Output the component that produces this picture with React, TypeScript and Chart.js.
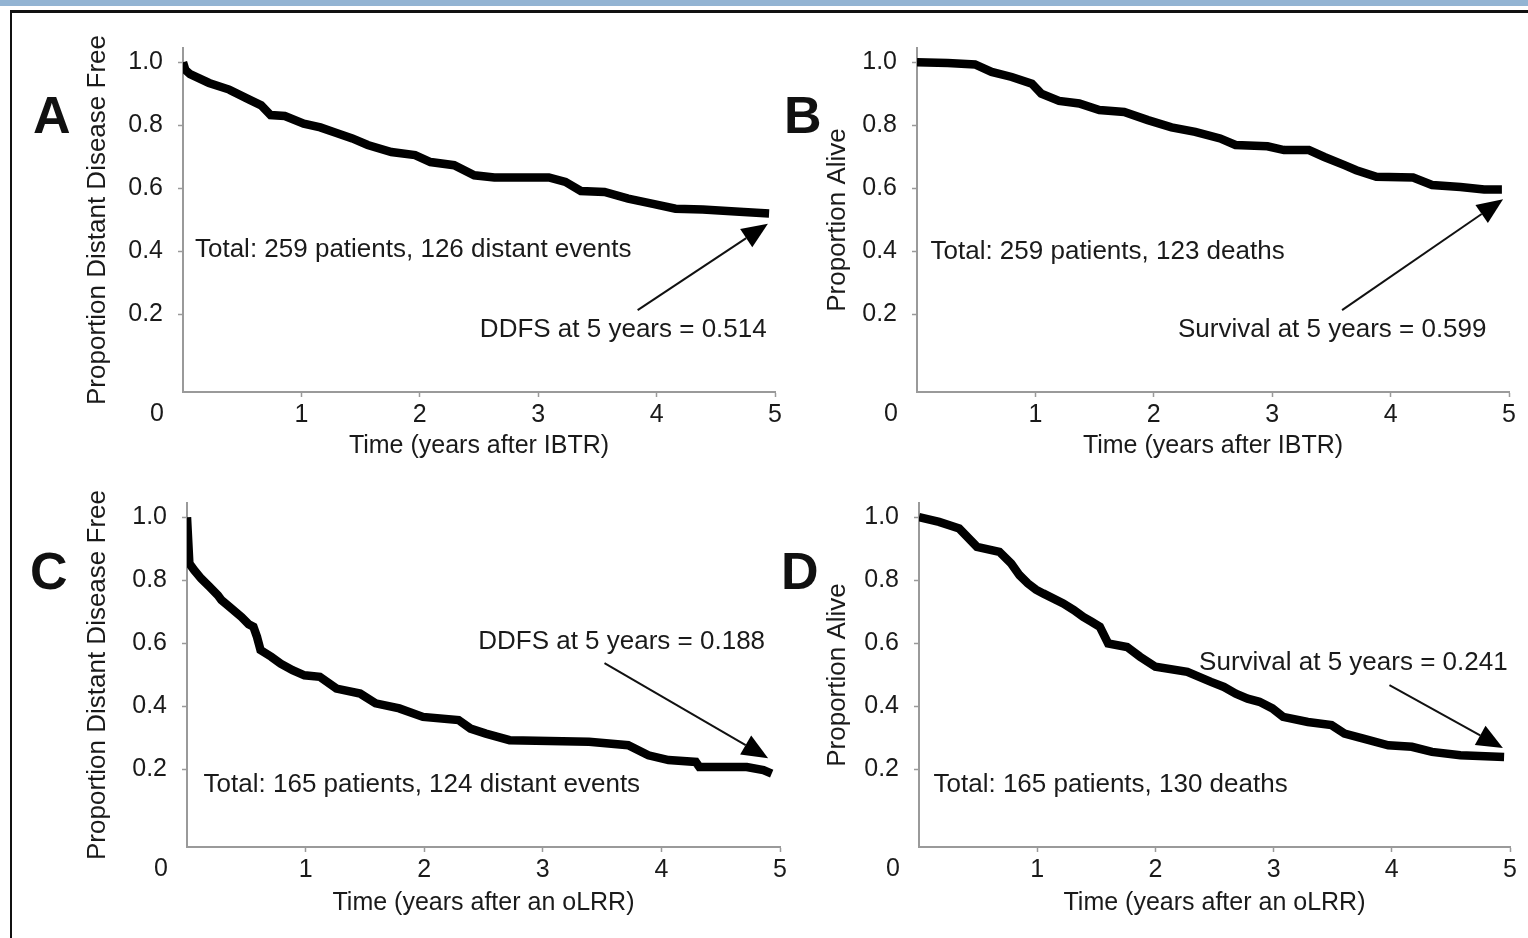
import React, { useEffect, useRef } from 'react';
import { Chart, registerables } from 'chart.js';

Chart.register(...registerables);

const FONT = '"Liberation Sans", Arial, Helvetica, sans-serif';
Chart.defaults.font.family = FONT;

// ---------- data ----------
const xTickValues = [1, 2, 3, 4, 5];
const yTickValues = [0.2, 0.4, 0.6, 0.8, 1.0];

// A: distant disease free after IBTR
const timeA = [0, 0.02, 0.06, 0.22, 0.39, 0.56, 0.66, 0.74, 0.86, 1.02, 1.16, 1.29, 1.43, 1.56, 1.76, 1.96, 2.09, 2.29, 2.46, 2.63, 3.09, 3.23, 3.36, 3.56, 3.76, 3.96, 4.16, 4.39, 4.70, 4.95];
const survA = [1.0, 0.975, 0.962, 0.934, 0.913, 0.881, 0.863, 0.832, 0.829, 0.805, 0.793, 0.776, 0.758, 0.737, 0.715, 0.705, 0.683, 0.673, 0.641, 0.634, 0.634, 0.620, 0.591, 0.588, 0.567, 0.551, 0.535, 0.532, 0.525, 0.520];

// B: alive after IBTR
const timeB = [0, 0.26, 0.49, 0.63, 0.80, 0.97, 1.05, 1.20, 1.37, 1.54, 1.75, 1.95, 2.15, 2.35, 2.56, 2.69, 2.96, 3.10, 3.31, 3.44, 3.61, 3.71, 3.88, 4.19, 4.35, 4.59, 4.79, 4.94];
const survB = [1.0, 0.997, 0.993, 0.969, 0.953, 0.932, 0.900, 0.877, 0.869, 0.848, 0.842, 0.816, 0.793, 0.779, 0.758, 0.737, 0.733, 0.721, 0.721, 0.699, 0.673, 0.657, 0.636, 0.634, 0.610, 0.604, 0.596, 0.596];

// C: distant disease free after an oLRR
const timeC = [0, 0.02, 0.06, 0.12, 0.19, 0.26, 0.29, 0.36, 0.46, 0.52, 0.56, 0.59, 0.62, 0.71, 0.79, 0.89, 0.99, 1.12, 1.26, 1.46, 1.59, 1.79, 1.99, 2.29, 2.39, 2.52, 2.72, 3.39, 3.72, 3.89, 4.06, 4.29, 4.32, 4.72, 4.86, 4.93];
const survC = [1.0, 0.853, 0.832, 0.805, 0.779, 0.752, 0.737, 0.715, 0.683, 0.660, 0.652, 0.620, 0.578, 0.557, 0.535, 0.514, 0.498, 0.493, 0.456, 0.440, 0.409, 0.393, 0.366, 0.356, 0.329, 0.313, 0.292, 0.287, 0.276, 0.244, 0.229, 0.223, 0.207, 0.207, 0.197, 0.186];

// D: alive after an oLRR
const timeD = [0, 0.17, 0.34, 0.49, 0.68, 0.78, 0.85, 0.92, 0.99, 1.05, 1.22, 1.31, 1.39, 1.46, 1.53, 1.60, 1.76, 1.87, 2.00, 2.27, 2.47, 2.58, 2.68, 2.78, 2.88, 2.99, 3.08, 3.29, 3.49, 3.60, 3.76, 3.97, 4.17, 4.34, 4.58, 4.95];
const survD = [1.0, 0.985, 0.964, 0.906, 0.890, 0.853, 0.816, 0.790, 0.770, 0.758, 0.726, 0.705, 0.683, 0.668, 0.652, 0.599, 0.588, 0.557, 0.525, 0.509, 0.477, 0.461, 0.440, 0.424, 0.414, 0.393, 0.366, 0.350, 0.340, 0.313, 0.297, 0.276, 0.271, 0.255, 0.244, 0.239];

const yTitleDDFS = 'Proportion Distant Disease Free';
const yTitleAlive = 'Proportion Alive';
const xTitleIBTR = 'Time (years after IBTR)';
const xTitleOLRR = 'Time (years after an oLRR)';

// ---------- annotations (data coordinates) ----------
const notesA = {
  texts: [
    { text: 'Total: 259 patients, 126 distant events', at: [0.101, 0.403], align: 'left' },
    { text: 'DDFS at 5 years = 0.514', at: [4.93, 0.149], align: 'right' },
  ],
  arrow: { from: [3.84, 0.213], to: [4.94, 0.487] },
};
const notesB = {
  texts: [
    { text: 'Total: 259 patients, 123 deaths', at: [0.114, 0.397], align: 'left' },
    { text: 'Survival at 5 years = 0.599', at: [4.81, 0.149], align: 'right' },
  ],
  arrow: { from: [3.59, 0.213], to: [4.95, 0.565] },
};
const notesC = {
  texts: [
    { text: 'Total: 165 patients, 124 distant events', at: [0.14, 0.149], align: 'left' },
    { text: 'DDFS at 5 years = 0.188', at: [4.874, 0.603], align: 'right' },
  ],
  arrow: { from: [3.52, 0.537], to: [4.90, 0.235] },
};
const notesD = {
  texts: [
    { text: 'Total: 165 patients, 130 deaths', at: [0.123, 0.149], align: 'left' },
    { text: 'Survival at 5 years = 0.241', at: [4.98, 0.537], align: 'right' },
  ],
  arrow: { from: [3.98, 0.467], to: [4.94, 0.267] },
};

const TEXT = '#1a1a1a';
const AXIS = '#9a9a9a';

const kmAnnotations = {
  id: 'kmAnnotations',
  afterDatasetsDraw(chart: any, _args: any, opts: any) {
    const { ctx, chartArea } = chart;
    const xs = chart.scales.x;
    const ys = chart.scales.y;
    ctx.save();
    ctx.fillStyle = TEXT;
    ctx.strokeStyle = '#111';
    ctx.font = `26px ${FONT}`;
    ctx.textBaseline = 'middle';
    for (const t of opts.texts || []) {
      ctx.textAlign = t.align;
      ctx.fillText(t.text, xs.getPixelForValue(t.at[0]), ys.getPixelForValue(t.at[1]));
    }
    const a = opts.arrow;
    if (a) {
      const x0 = xs.getPixelForValue(a.from[0]);
      const y0 = ys.getPixelForValue(a.from[1]);
      const x1 = xs.getPixelForValue(a.to[0]);
      const y1 = ys.getPixelForValue(a.to[1]);
      const ang = Math.atan2(y1 - y0, x1 - x0);
      const L = 26;
      const W = 11;
      const c = Math.cos(ang);
      const s = Math.sin(ang);
      const bx = x1 - L * c;
      const by = y1 - L * s;
      ctx.lineWidth = 2;
      ctx.beginPath();
      ctx.moveTo(x0, y0);
      ctx.lineTo(bx, by);
      ctx.stroke();
      ctx.fillStyle = '#000';
      ctx.beginPath();
      ctx.moveTo(x1, y1);
      ctx.lineTo(bx - W * s, by + W * c);
      ctx.lineTo(bx + W * s, by - W * c);
      ctx.closePath();
      ctx.fill();
    }
    // shared origin label
    ctx.fillStyle = TEXT;
    ctx.font = `25px ${FONT}`;
    ctx.textAlign = 'center';
    ctx.fillText('0', chartArea.left - 26, chartArea.bottom + 22);
    ctx.restore();
  },
};

type PanelProps = {
  times: number[];
  surv: number[];
  yTitle: string;
  xTitle: string;
  notes: any;
  left: number;
  top: number;
  width: number;
  height: number;
  yAxisWidth: number;
  xAxisHeight: number;
};

function zeroPadding(s: any) {
  s.paddingLeft = 0;
  s.paddingRight = 0;
  s.paddingTop = 0;
  s.paddingBottom = 0;
}

function KMPanel(p: PanelProps) {
  const ref = useRef<HTMLCanvasElement>(null);
  useEffect(() => {
    const chart = new Chart(ref.current as HTMLCanvasElement, {
      type: 'line',
      data: {
        datasets: [
          {
            data: p.times.map((t, i) => ({ x: t, y: p.surv[i] })),
            borderColor: '#000',
            borderWidth: 8.5,
            tension: 0,
            pointRadius: 0,
            fill: false,
            borderJoinStyle: 'miter',
            borderCapStyle: 'butt',
          } as any,
        ],
      },
      options: {
        animation: false,
        responsive: false,
        layout: { padding: { top: 28, right: 15, left: 0, bottom: 0 } },
        plugins: {
          legend: { display: false },
          tooltip: { enabled: false },
          kmAnnotations: p.notes,
        } as any,
        scales: {
          x: {
            type: 'linear',
            min: 0,
            max: 5,
            afterBuildTicks: (s: any) => {
              s.ticks = xTickValues.map((v) => ({ value: v }));
            },
            afterFit: (s: any) => {
              s.height = p.xAxisHeight;
              zeroPadding(s);
            },
            ticks: {
              color: TEXT,
              font: { size: 25, family: FONT },
              padding: 3,
              maxRotation: 0,
              autoSkip: false,
              callback: (v: any) => String(v),
            },
            grid: { drawOnChartArea: false, tickLength: 5, color: AXIS, tickWidth: 1.5 },
            border: { color: AXIS, width: 2 },
            title: {
              display: true,
              text: p.xTitle,
              color: TEXT,
              font: { size: 25, family: FONT },
              padding: { top: 0, bottom: 6 },
            },
          },
          y: {
            type: 'linear',
            min: -0.047,
            max: 1.045,
            afterBuildTicks: (s: any) => {
              s.ticks = yTickValues.map((v) => ({ value: v }));
            },
            afterFit: (s: any) => {
              s.width = p.yAxisWidth;
              zeroPadding(s);
            },
            ticks: {
              color: TEXT,
              font: { size: 25, family: FONT },
              padding: 15,
              callback: (v: any) => Number(v).toFixed(1),
            },
            grid: { drawOnChartArea: false, tickLength: 5, color: AXIS, tickWidth: 1.5 },
            border: { color: AXIS, width: 2 },
            title: {
              display: true,
              text: p.yTitle,
              color: TEXT,
              font: { size: 26, family: FONT },
              padding: { top: 22, bottom: 0 },
            },
          },
        },
      } as any,
      plugins: [kmAnnotations],
    });
    return () => chart.destroy();
  }, []);
  return (
    <canvas
      ref={ref}
      width={p.width}
      height={p.height}
      style={{ position: 'absolute', left: p.left, top: p.top, width: p.width, height: p.height }}
    />
  );
}

const letterStyle = (left: number, top: number): React.CSSProperties => ({
  position: 'absolute',
  left,
  top,
  font: `bold 52px ${FONT}`,
  lineHeight: '52px',
  color: '#111',
});

export default function App() {
  return (
    <div
      style={{
        position: 'absolute',
        left: 0,
        top: 0,
        width: 1528,
        height: 938,
        background: '#fff',
        overflow: 'hidden',
      }}
    >
      <div style={{ position: 'absolute', left: 0, top: 0, width: 1528, height: 6, background: '#93b4d3' }} />
      <div
        style={{
          position: 'absolute',
          left: 10,
          top: 10,
          width: 1600,
          height: 1000,
          borderTop: '3px solid #111',
          borderLeft: '2px solid #111',
        }}
      />
      <KMPanel times={timeA} surv={survA} yTitle={yTitleDDFS} xTitle={xTitleIBTR} notes={notesA}
        left={60} top={20} width={730} height={447} yAxisWidth={123} xAxisHeight={75} />
      <KMPanel times={timeB} surv={survB} yTitle={yTitleAlive} xTitle={xTitleIBTR} notes={notesB}
        left={800} top={20} width={724} height={447} yAxisWidth={117} xAxisHeight={75} />
      <KMPanel times={timeC} surv={survC} yTitle={yTitleDDFS} xTitle={xTitleOLRR} notes={notesC}
        left={60} top={475} width={735} height={449} yAxisWidth={127} xAxisHeight={77} />
      <KMPanel times={timeD} surv={survD} yTitle={yTitleAlive} xTitle={xTitleOLRR} notes={notesD}
        left={800} top={475} width={725} height={449} yAxisWidth={119} xAxisHeight={77} />
      <div style={letterStyle(33, 89)}>A</div>
      <div style={letterStyle(784, 89)}>B</div>
      <div style={letterStyle(30, 545)}>C</div>
      <div style={letterStyle(781, 545)}>D</div>
    </div>
  );
}
